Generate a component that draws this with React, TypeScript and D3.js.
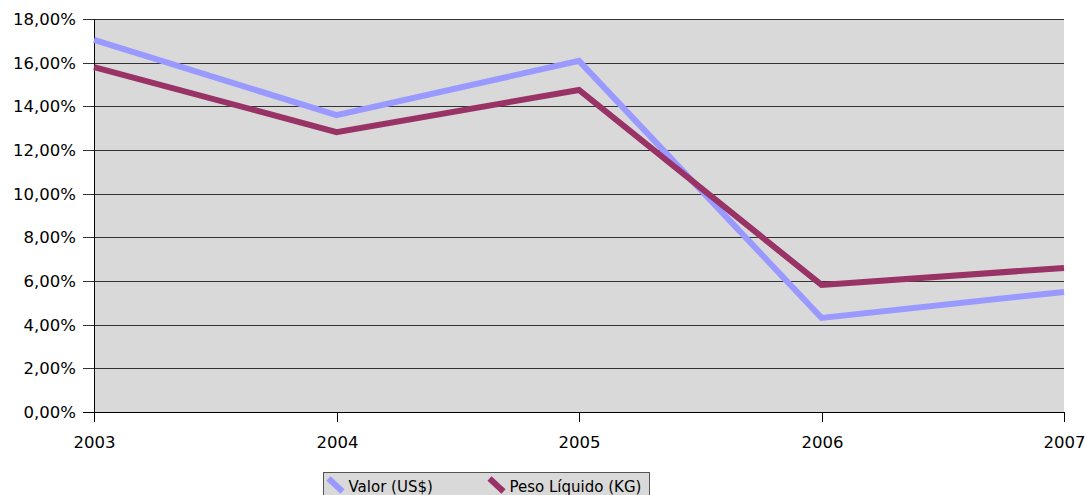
import React, { useEffect, useRef } from 'react';
import * as d3 from 'd3';

const years = ['2003', '2004', '2005', '2006', '2007'];
const valorUsd = [0.1704, 0.1360, 0.1608, 0.0431, 0.0550];
const pesoLiquido = [0.1580, 0.1282, 0.1475, 0.0582, 0.0660];
const yTicks = [0, 0.02, 0.04, 0.06, 0.08, 0.10, 0.12, 0.14, 0.16, 0.18];

const series = [
  { name: 'Valor (US$)', values: valorUsd, color: '#9999ff' },
  { name: 'Peso Líquido (KG)', values: pesoLiquido, color: '#993366' },
];

const width = 1085;
const height = 495;
const margin = { top: 19, right: 21, bottom: 83, left: 94 };
const font = 'DejaVu Sans, sans-serif';

export default function App() {
  const svgRef = useRef<SVGSVGElement>(null);

  useEffect(() => {
    if (!svgRef.current) return;
    const svg = d3.select(svgRef.current);
    svg.selectAll('*').remove();

    const innerWidth = width - margin.left - margin.right;
    const innerHeight = height - margin.top - margin.bottom;

    const x = d3.scalePoint<string>().domain(years).range([0, innerWidth]);
    const y = d3.scaleLinear().domain([0, 0.18]).range([innerHeight, 0]);
    const fmt = (v: number) => (v * 100).toFixed(2).replace('.', ',') + '%';

    const g = svg.append('g').attr('transform', `translate(${margin.left},${margin.top})`);

    // plot background
    g.append('rect')
      .attr('width', innerWidth)
      .attr('height', innerHeight)
      .attr('fill', '#d9d9d9');

    // gridlines + y ticks
    yTicks.forEach((t) => {
      const yy = Math.round(y(t)) + 0.5;
      g.append('line')
        .attr('x1', -11)
        .attr('x2', innerWidth)
        .attr('y1', yy)
        .attr('y2', yy)
        .attr('stroke', t === 0 ? '#000' : '#333')
        .attr('stroke-width', 1)
        .attr('shape-rendering', 'crispEdges');
      g.append('text')
        .attr('x', -18)
        .attr('y', yy)
        .attr('dy', '0.35em')
        .attr('text-anchor', 'end')
        .attr('font-size', '16.5px')
        .attr('font-family', font)
        .attr('fill', '#000')
        .text(fmt(t));
    });

    // y axis line
    g.append('line')
      .attr('x1', 0.5)
      .attr('x2', 0.5)
      .attr('y1', 0)
      .attr('y2', innerHeight + 10)
      .attr('stroke', '#000')
      .attr('shape-rendering', 'crispEdges');

    // x ticks and labels
    years.forEach((yr) => {
      const xx = Math.round(x(yr) as number) + 0.5;
      g.append('line')
        .attr('x1', xx)
        .attr('x2', xx)
        .attr('y1', innerHeight)
        .attr('y2', innerHeight + 10)
        .attr('stroke', '#000')
        .attr('shape-rendering', 'crispEdges');
      g.append('text')
        .attr('x', xx)
        .attr('y', innerHeight + 36)
        .attr('text-anchor', 'middle')
        .attr('font-size', '16.5px')
        .attr('font-family', font)
        .attr('fill', '#000')
        .text(yr);
    });

    // lines
    const line = d3
      .line<number>()
      .x((_, i) => x(years[i]) as number)
      .y((d) => y(d));

    series.forEach((s) => {
      g.append('path')
        .datum(s.values)
        .attr('d', line)
        .attr('fill', 'none')
        .attr('stroke', s.color)
        .attr('stroke-width', 6)
        .attr('stroke-linejoin', 'miter');
    });

    // legend
    const legend = svg.append('g').attr('transform', 'translate(323.5,472.5)');
    legend.append('rect')
      .attr('width', 326)
      .attr('height', 30)
      .attr('fill', '#d9d9d9')
      .attr('stroke', '#555')
      .attr('stroke-width', 1);
    const offsets = [0, 161];
    series.forEach((s, i) => {
      const lg = legend.append('g').attr('transform', `translate(${offsets[i]},0)`);
      lg.append('line')
        .attr('x1', 5)
        .attr('y1', 6)
        .attr('x2', 19)
        .attr('y2', 19)
        .attr('stroke', s.color)
        .attr('stroke-width', 6);
      lg.append('text')
        .attr('x', 25)
        .attr('y', 19)
        .attr('font-size', '15px')
        .attr('font-family', font)
        .attr('fill', '#000')
        .text(s.name);
    });
  }, []);

  return (
    <svg
      ref={svgRef}
      width={width}
      height={height}
      style={{ position: 'absolute', left: 0, top: 0, background: '#fff' }}
    />
  );
}
